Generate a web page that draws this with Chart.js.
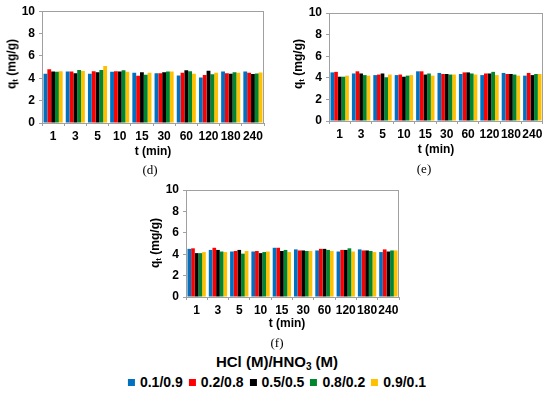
<!DOCTYPE html>
<html>
<head>
<meta charset="utf-8">
<script src="https://cdn.jsdelivr.net/npm/chart.js@4.4.0/dist/chart.umd.min.js"></script>
<style>
  body { margin: 0; background: #fff; }
  #wrap { position: relative; width: 550px; height: 395px; overflow: hidden; font-family: Arial, 'Liberation Sans', sans-serif; }
  canvas { position: absolute; }
  .txt { position: absolute; transform: translate(-50%, -50%); white-space: nowrap; color: #000; }
  .ytitle { font-weight: bold; font-size: 12px; transform: translate(-50%, -50%) rotate(-90deg); }
  .xtitle { font-weight: bold; font-size: 12px; }
  .panel { font-family: 'Liberation Serif', 'Times New Roman', serif; font-size: 13px; }
  .ytitle sub { font-size: 8px; vertical-align: -2px; }
  #legTitle { font-weight: bold; font-size: 15px; }
  #legTitle sub { font-size: 10px; vertical-align: -3px; }
  #legend { font-weight: bold; font-size: 14px; display: flex; gap: 6px; }
  #legend span.sw { display: inline-block; width: 7px; height: 7px; margin-right: 5px; vertical-align: 1px; }
</style>
</head>
<body>
<div id="wrap">
  <canvas id="chartD" width="275" height="145" style="left:0;top:0"></canvas>
  <canvas id="chartE" width="263" height="145" style="left:287px;top:0"></canvas>
  <canvas id="chartF" width="264" height="145" style="left:144px;top:178px"></canvas>

  <div class="txt ytitle" style="left:12px;top:64px">q<sub>t</sub> (mg/g)</div>
  <div class="txt ytitle" style="left:298px;top:64px">q<sub>t</sub> (mg/g)</div>
  <div class="txt ytitle" style="left:155px;top:243px">q<sub>t</sub> (mg/g)</div>

  <div class="txt xtitle" style="left:153px;top:151px">t (min)</div>
  <div class="txt xtitle" style="left:436px;top:149px">t (min)</div>
  <div class="txt xtitle" style="left:287px;top:323px">t (min)</div>

  <div class="txt panel" style="left:150px;top:170px">(d)</div>
  <div class="txt panel" style="left:424px;top:169px">(e)</div>
  <div class="txt panel" style="left:277px;top:343px">(f)</div>

  <div class="txt" id="legTitle" style="left:277px;top:362px">HCl (M)/HNO<sub>3</sub> (M)</div>
  <div class="txt" id="legend" style="left:277px;top:382px"></div>
</div>

<script>
// time points (x categories)
const times = ['1', '3', '5', '10', '15', '30', '60', '120', '180', '240'];
// HCl/HNO3 ratios (series)
const ratios = ['0.1/0.9', '0.2/0.8', '0.5/0.5', '0.8/0.2', '0.9/0.1'];
const colors = ['#0070C0', '#FF0000', '#000000', '#00862F', '#FFC000'];
const yTicks = [0, 2, 4, 6, 8, 10];

// panel (d) qt values, one array per ratio
const d01 = [4.4, 4.6, 4.4, 4.58, 4.5, 4.44, 4.25, 4.08, 4.6, 4.6];
const d02 = [4.8, 4.6, 4.62, 4.62, 4.22, 4.44, 4.5, 4.3, 4.44, 4.5];
const d05 = [4.6, 4.45, 4.55, 4.6, 4.55, 4.55, 4.72, 4.68, 4.4, 4.38];
const d08 = [4.58, 4.75, 4.75, 4.72, 4.32, 4.6, 4.62, 4.35, 4.55, 4.42];
const d09 = [4.62, 4.66, 5.1, 4.58, 4.5, 4.6, 4.4, 4.5, 4.5, 4.52];

// panel (e)
const e01 = [4.5, 4.4, 4.25, 4.25, 4.6, 4.45, 4.35, 4.25, 4.45, 4.2];
const e02 = [4.55, 4.6, 4.3, 4.3, 4.6, 4.35, 4.5, 4.4, 4.35, 4.45];
const e05 = [4.1, 4.4, 4.4, 4.1, 4.3, 4.35, 4.5, 4.4, 4.35, 4.25];
const e08 = [4.1, 4.25, 4.05, 4.2, 4.4, 4.3, 4.4, 4.55, 4.3, 4.35];
const e09 = [4.2, 4.2, 4.3, 4.25, 4.2, 4.3, 4.3, 4.25, 4.2, 4.35];

// panel (f)
const f01 = [4.5, 4.4, 4.25, 4.25, 4.6, 4.45, 4.35, 4.25, 4.45, 4.2];
const f02 = [4.55, 4.6, 4.3, 4.3, 4.6, 4.35, 4.5, 4.4, 4.35, 4.45];
const f05 = [4.1, 4.4, 4.4, 4.1, 4.3, 4.35, 4.5, 4.4, 4.35, 4.25];
const f08 = [4.1, 4.25, 4.05, 4.2, 4.4, 4.3, 4.4, 4.55, 4.3, 4.35];
const f09 = [4.2, 4.2, 4.3, 4.25, 4.2, 4.3, 4.3, 4.25, 4.2, 4.35];

Chart.defaults.font.family = "Arial, 'Liberation Sans', sans-serif";
Chart.defaults.devicePixelRatio = 1;

// grey frame round the plot area
const framePlugin = {
  id: 'frame',
  afterDraw(chart) {
    const a = chart.chartArea, c = chart.ctx;
    c.save();
    c.strokeStyle = '#a0a0a0';
    c.lineWidth = 1;
    c.strokeRect(Math.round(a.left) + 0.5, Math.round(a.top) + 0.5,
      Math.round(a.right - a.left) - 1, Math.round(a.bottom - a.top));
    c.restore();
  }
};

function makeChart(id, series, pad, xHeight) {
  const datasets = series.map((vals, i) => ({
    label: ratios[i],
    data: vals,
    backgroundColor: colors[i],
    borderWidth: 0,
    categoryPercentage: 0.86,
    barPercentage: 1.0
  }));
  return new Chart(document.getElementById(id), {
    type: 'bar',
    data: { labels: times, datasets: datasets },
    options: {
      responsive: false,
      animation: false,
      layout: { padding: pad },
      plugins: { legend: { display: false }, tooltip: { enabled: false } },
      scales: {
        x: {
          grid: { drawOnChartArea: false, tickLength: 3, color: '#a0a0a0', offset: true },
          border: { display: false },
          ticks: { color: '#000', font: { size: 12, weight: 'bold' }, padding: 3, maxRotation: 0, autoSkip: false },
          afterFit(s) { s.height = xHeight; }
        },
        y: {
          min: 0, max: 10,
          grid: { drawOnChartArea: false, tickLength: 3, color: '#a0a0a0' },
          border: { display: false },
          ticks: {
            stepSize: 1,
            color: '#000',
            font: { size: 12, weight: 'bold' },
            padding: 4,
            callback: v => yTicks.includes(v) ? v : ''
          },
          afterFit(s) { s.width = 42; }
        }
      }
    },
    plugins: [framePlugin]
  });
}

makeChart('chartD', [d01, d02, d05, d08, d09], { left: 0, top: 11, right: 11, bottom: 0 }, 22);
makeChart('chartE', [e01, e02, e05, e08, e09], { left: 0, top: 13, right: 7, bottom: 0 }, 24);
makeChart('chartF', [f01, f02, f05, f08, f09], { left: 0, top: 12, right: 9, bottom: 0 }, 26);

// shared legend at the bottom
const legend = document.getElementById('legend');
ratios.forEach((r, i) => {
  const item = document.createElement('span');
  item.innerHTML = '<span class="sw" style="background:' + colors[i] + '"></span>' + r;
  legend.appendChild(item);
});
</script>
</body>
</html>
